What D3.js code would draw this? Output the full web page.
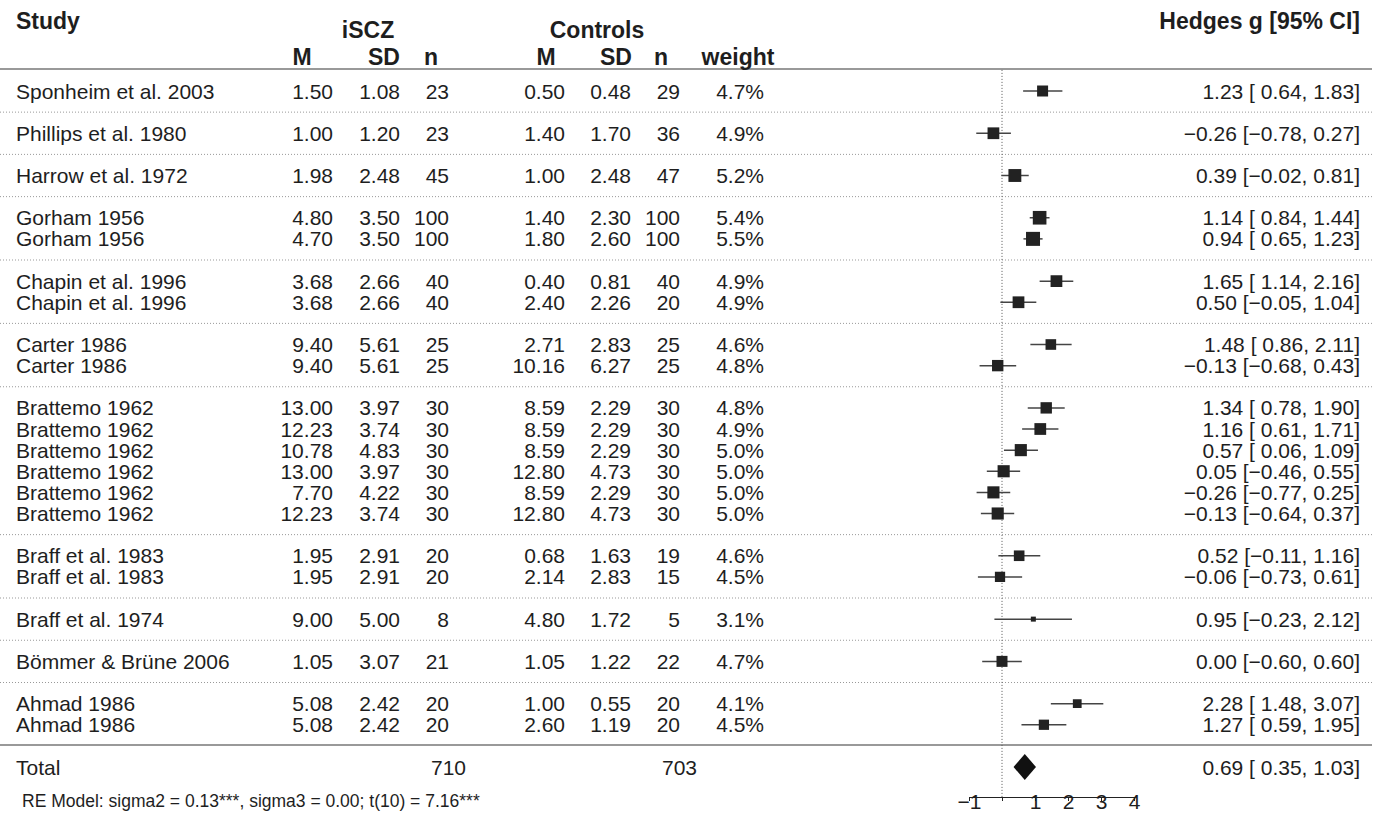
<!DOCTYPE html>
<html>
<head>
<meta charset="utf-8">
<script src="https://cdn.jsdelivr.net/npm/d3@7"></script>
<style>
  body { margin: 0; background: #fff; }
  text { font-family: "Liberation Sans", Arial, Helvetica, sans-serif; fill: #1e1e1e; }
</style>
</head>
<body>
<div id="chart"></div>
<script>
// study rows
const studies = ["Sponheim et al. 2003", "Phillips et al. 1980", "Harrow et al. 1972", "Gorham 1956", "Gorham 1956",
  "Chapin et al. 1996", "Chapin et al. 1996", "Carter 1986", "Carter 1986",
  "Brattemo 1962", "Brattemo 1962", "Brattemo 1962", "Brattemo 1962", "Brattemo 1962", "Brattemo 1962",
  "Braff et al. 1983", "Braff et al. 1983", "Braff et al. 1974", "Bömmer & Brüne 2006", "Ahmad 1986", "Ahmad 1986"];
// row slot of each study (one empty slot between studies)
const slots = [0, 2, 4, 6, 7, 9, 10, 12, 13, 15, 16, 17, 18, 19, 20, 22, 23, 25, 27, 29, 30];
const separators = [1, 3, 5, 8, 11, 14, 21, 24, 26, 28];

const iM = [1.50, 1.00, 1.98, 4.80, 4.70, 3.68, 3.68, 9.40, 9.40, 13.00, 12.23, 10.78, 13.00, 7.70, 12.23, 1.95, 1.95, 9.00, 1.05, 5.08, 5.08];
const iSD = [1.08, 1.20, 2.48, 3.50, 3.50, 2.66, 2.66, 5.61, 5.61, 3.97, 3.74, 4.83, 3.97, 4.22, 3.74, 2.91, 2.91, 5.00, 3.07, 2.42, 2.42];
const iN = [23, 23, 45, 100, 100, 40, 40, 25, 25, 30, 30, 30, 30, 30, 30, 20, 20, 8, 21, 20, 20];
const cM = [0.50, 1.40, 1.00, 1.40, 1.80, 0.40, 2.40, 2.71, 10.16, 8.59, 8.59, 8.59, 12.80, 8.59, 12.80, 0.68, 2.14, 4.80, 1.05, 1.00, 2.60];
const cSD = [0.48, 1.70, 2.48, 2.30, 2.60, 0.81, 2.26, 2.83, 6.27, 2.29, 2.29, 2.29, 4.73, 2.29, 4.73, 1.63, 2.83, 1.72, 1.22, 0.55, 1.19];
const cN = [29, 36, 47, 100, 100, 40, 20, 25, 25, 30, 30, 30, 30, 30, 30, 19, 15, 5, 22, 20, 20];
const weights = [4.7, 4.9, 5.2, 5.4, 5.5, 4.9, 4.9, 4.6, 4.8, 4.8, 4.9, 5.0, 5.0, 5.0, 5.0, 4.6, 4.5, 3.1, 4.7, 4.1, 4.5];
const g = [1.23, -0.26, 0.39, 1.14, 0.94, 1.65, 0.50, 1.48, -0.13, 1.34, 1.16, 0.57, 0.05, -0.26, -0.13, 0.52, -0.06, 0.95, 0.00, 2.28, 1.27];
const lo = [0.64, -0.78, -0.02, 0.84, 0.65, 1.14, -0.05, 0.86, -0.68, 0.78, 0.61, 0.06, -0.46, -0.77, -0.64, -0.11, -0.73, -0.23, -0.60, 1.48, 0.59];
const hi = [1.83, 0.27, 0.81, 1.44, 1.23, 2.16, 1.04, 2.11, 0.43, 1.90, 1.71, 1.09, 0.55, 0.25, 0.37, 1.16, 0.61, 2.12, 0.60, 3.07, 1.95];

// pooled
const total = { g: 0.69, lo: 0.35, hi: 1.03, nI: 710, nC: 703 };
const xTicks = [-1, 0, 1, 2, 3, 4];
const tickLabels = ["−1", "", "1", "2", "3", "4"];
const modelText = "RE Model: sigma2 = 0.13***, sigma3 = 0.00; t(10) = 7.16***";

const W = 1378, H = 813;
const svg = d3.select('#chart').append('svg').attr('width', W).attr('height', H);

const y = d3.scaleLinear().domain([0, 32]).range([91, 767]);
const x = d3.scaleLinear().domain([-1, 4]).range([969, 1134]);
const size = d3.scaleLinear().domain([3.1, 5.5]).range([5, 14]);

const fs = 21;
const fmt = v => v.toFixed(2).replace('-', '−');
const pad = v => (v < 0 ? '' : ' ') + fmt(v);
const ciText = (e, l, h) => `${fmt(e)} [${pad(l)}, ${fmt(h)}]`;

// column right edges for the table
const cols = [
  { vals: iM, x: 333, f: v => v.toFixed(2) },
  { vals: iSD, x: 400, f: v => v.toFixed(2) },
  { vals: iN, x: 449, f: v => v },
  { vals: cM, x: 565, f: v => v.toFixed(2) },
  { vals: cSD, x: 631, f: v => v.toFixed(2) },
  { vals: cN, x: 680, f: v => v },
  { vals: weights, x: 764, f: v => v.toFixed(1) + '%' }
];

// separators
svg.selectAll('.sep').data(separators).enter().append('line')
  .attr('x1', 0).attr('x2', 1372)
  .attr('y1', d => y(d)).attr('y2', d => y(d))
  .attr('stroke', '#999').attr('stroke-width', 1).attr('stroke-dasharray', '1,2');

// header / footer solid lines
svg.selectAll('.hline').data([-1, 31]).enter().append('line')
  .attr('x1', 0).attr('x2', 1372)
  .attr('y1', d => y(d) - 1).attr('y2', d => y(d) - 1)
  .attr('stroke', '#777').attr('stroke-width', 1.5);

// zero line
svg.append('line')
  .attr('x1', x(0)).attr('x2', x(0))
  .attr('y1', y(-1)).attr('y2', 797)
  .attr('stroke', '#555').attr('stroke-width', 1).attr('stroke-dasharray', '1,2');

// headers
const head = svg.append('g').style('font-weight', 'bold').style('font-size', '23px');
head.append('text').attr('x', 16).attr('y', 21).attr('dominant-baseline', 'central').text('Study');
head.append('text').attr('x', 368).attr('y', 30).attr('text-anchor', 'middle').attr('dominant-baseline', 'central').text('iSCZ');
head.append('text').attr('x', 597).attr('y', 30).attr('text-anchor', 'middle').attr('dominant-baseline', 'central').text('Controls');
head.append('text').attr('x', 1360).attr('y', 21).attr('text-anchor', 'end').attr('dominant-baseline', 'central').text('Hedges g [95% CI]');
const sub = [["M", 302], ["SD", 384], ["n", 431], ["M", 546], ["SD", 616], ["n", 661], ["weight", 738]];
head.selectAll('.sub').data(sub).enter().append('text')
  .attr('x', d => d[1]).attr('y', 57).attr('text-anchor', 'middle').attr('dominant-baseline', 'central')
  .text(d => d[0]);

// study names
const body = svg.append('g').style('font-size', fs + 'px');
body.selectAll('.study').data(studies).enter().append('text')
  .attr('x', 16).attr('y', (d, i) => y(slots[i])).attr('dominant-baseline', 'central')
  .text(d => d);

cols.forEach(c => {
  body.selectAll(null).data(c.vals).enter().append('text')
    .attr('x', c.x).attr('y', (d, i) => y(slots[i]))
    .attr('text-anchor', 'end').attr('dominant-baseline', 'central')
    .text(c.f);
});

// estimates text
body.selectAll('.est').data(g).enter().append('text')
  .attr('x', 1360).attr('y', (d, i) => y(slots[i]))
  .attr('text-anchor', 'end').attr('dominant-baseline', 'central')
  .text((d, i) => ciText(d, lo[i], hi[i]));

// CI lines
svg.selectAll('.ci').data(g).enter().append('line')
  .attr('x1', (d, i) => x(lo[i])).attr('x2', (d, i) => x(hi[i]))
  .attr('y1', (d, i) => y(slots[i])).attr('y2', (d, i) => y(slots[i]))
  .attr('stroke', '#444').attr('stroke-width', 1.5);

// squares
svg.selectAll('.sq').data(g).enter().append('rect')
  .attr('x', (d, i) => x(d) - size(weights[i]) / 2)
  .attr('y', (d, i) => y(slots[i]) - size(weights[i]) / 2)
  .attr('width', (d, i) => size(weights[i]))
  .attr('height', (d, i) => size(weights[i]))
  .attr('fill', '#222');

// total row
const ty = y(32);
body.append('text').attr('x', 16).attr('y', ty).attr('dominant-baseline', 'central').text('Total');
body.append('text').attr('x', 466).attr('y', ty).attr('text-anchor', 'end').attr('dominant-baseline', 'central').text(total.nI);
body.append('text').attr('x', 697).attr('y', ty).attr('text-anchor', 'end').attr('dominant-baseline', 'central').text(total.nC);
body.append('text').attr('x', 1360).attr('y', ty).attr('text-anchor', 'end').attr('dominant-baseline', 'central')
  .text(ciText(total.g, total.lo, total.hi));

// diamond
svg.append('path')
  .attr('d', `M${x(total.lo)},${ty} L${x(total.g)},${ty - 13} L${x(total.hi)},${ty} L${x(total.g)},${ty + 13} Z`)
  .attr('fill', '#111');

// x axis
const axisY = 797;
const axis = svg.append('g').attr('transform', `translate(0,${axisY})`)
  .call(d3.axisBottom(x).tickValues(xTicks).tickSize(4).tickSizeOuter(0).tickFormat((d, i) => tickLabels[i]));
axis.select('.domain').attr('stroke', '#222').attr('stroke-width', 1.2);
axis.selectAll('.tick line').attr('stroke', '#222');
axis.selectAll('.tick text').attr('y', -3).attr('dy', '0.71em')
  .style('font-size', '21px').style('font-family', '"Liberation Sans", Arial, sans-serif').attr('fill', '#222');

// model text
svg.append('text').attr('x', 22).attr('y', 801).attr('dominant-baseline', 'central')
  .style('font-size', '17.5px').text(modelText);
</script>
</body>
</html>
